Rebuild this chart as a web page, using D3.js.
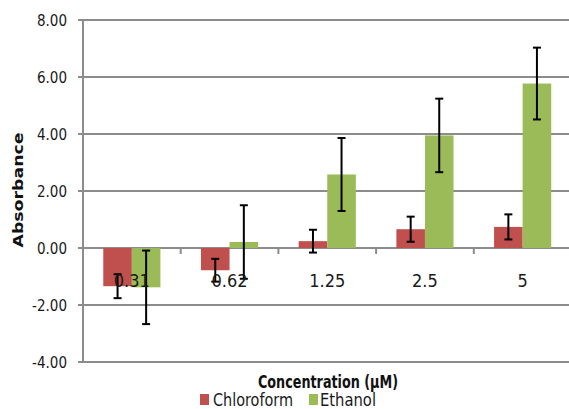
<!DOCTYPE html>
<html><head><meta charset="utf-8">
<script src="https://cdn.jsdelivr.net/npm/d3@7"></script>
<style>body{margin:0;background:#fff}svg{display:block}</style>
</head><body>
<script>
const categories = ["0.31","0.62","1.25","2.5","5"];
const chloroform = [-1.34,-0.78,0.24,0.66,0.74];
const chloroformErr = [0.42,0.40,0.40,0.44,0.44];
const ethanol = [-1.38,0.21,2.58,3.95,5.77];
const ethanolErr = [1.29,1.29,1.28,1.29,1.26];
const yTicks = [-4,-2,0,2,4,6,8];
const seriesNames = ["Chloroform","Ethanol"];
const colors = ["#C0504D","#9BBB59"];

const W=569,H=409;
const svg=d3.select("body").append("svg").attr("width",W).attr("height",H);
const font='"Liberation Sans Narrow","DejaVu Sans Condensed","DejaVu Sans",sans-serif';
const x0=83,x1=571.5;
const y=d3.scaleLinear().domain([-4,8]).range([362,20]);
const x=d3.scaleBand().domain(categories).range([x0,x1]).paddingInner(0).paddingOuter(0);
const inner=d3.scaleBand().domain([0,1]).range([0,x.bandwidth()]).paddingInner(0).paddingOuter(0.71);

// gridlines
svg.append("g").selectAll("line").data(yTicks).join("line")
  .attr("x1",x0-5).attr("x2",x1).attr("y1",d=>y(d)).attr("y2",d=>y(d))
  .attr("stroke","#8c8c8c").attr("stroke-width",2);
// y axis line
svg.append("line").attr("x1",x0).attr("x2",x0).attr("y1",y(8)).attr("y2",y(-4))
  .attr("stroke","#8c8c8c").attr("stroke-width",2);
// y tick labels
svg.append("g").selectAll("text").data(yTicks).join("text")
  .attr("x",67).attr("y",d=>y(d)+5.5).attr("text-anchor","end")
  .attr("font-family",font).attr("font-size",15).attr("fill","#1a1a1a")
  .text(d=>d.toFixed(2));

const data=[chloroform,ethanol], errs=[chloroformErr,ethanolErr];
data.forEach((vals,s)=>{
  svg.append("g").selectAll("rect").data(vals).join("rect")
    .attr("x",(d,i)=>x(categories[i])+inner(s))
    .attr("width",inner.bandwidth())
    .attr("y",d=>y(Math.max(0,d)))
    .attr("height",d=>Math.abs(y(d)-y(0)))
    .attr("fill",colors[s]);
});
// category ticks along zero line
svg.append("g").selectAll("line").data(categories.slice(1)).join("line")
  .attr("x1",d=>x(d)).attr("x2",d=>x(d)).attr("y1",y(0)).attr("y2",y(0)+6)
  .attr("stroke","#8c8c8c").attr("stroke-width",2);
// error bars
data.forEach((vals,s)=>{
  const g=svg.append("g").attr("stroke","#000").attr("stroke-width",2);
  vals.forEach((v,i)=>{
    const cx=x(categories[i])+inner(s)+inner.bandwidth()/2;
    const e=errs[s][i];
    g.append("line").attr("x1",cx).attr("x2",cx).attr("y1",y(v+e)).attr("y2",y(v-e));
    [v+e,v-e].forEach(t=>g.append("line").attr("x1",cx-4).attr("x2",cx+4).attr("y1",y(t)).attr("y2",y(t)));
  });
});
// category labels
svg.append("g").selectAll("text").data(categories).join("text")
  .attr("x",d=>x(d)+x.bandwidth()/2).attr("y",287).attr("text-anchor","middle")
  .attr("font-family",font).attr("font-size",18).attr("fill","#1a1a1a")
  .text(d=>d);

// y title
svg.append("text").attr("transform","translate(23,190) rotate(-90)")
  .attr("text-anchor","middle").attr("font-family",'"DejaVu Sans",sans-serif')
  .attr("font-weight","bold").attr("font-size",14).attr("fill","#111")
  .attr("textLength",115).attr("lengthAdjust","spacingAndGlyphs")
  .text("Absorbance");
// x title
svg.append("text").attr("x",258).attr("y",388)
  .attr("font-family",font).attr("font-weight","bold").attr("font-size",18).attr("fill","#111")
  .attr("textLength",140).attr("lengthAdjust","spacingAndGlyphs")
  .text("Concentration (µM)");
// legend
const lx=[200,309], tx=[213,320], tl=[80,56];
seriesNames.forEach((n,i)=>{
  svg.append("rect").attr("x",lx[i]).attr("y",394).attr("width",9).attr("height",11).attr("fill",colors[i]);
  svg.append("text").attr("x",tx[i]).attr("y",406).attr("font-family",font).attr("font-size",18).attr("fill","#1a1a1a")
    .attr("textLength",tl[i]).attr("lengthAdjust","spacingAndGlyphs").text(n);
});
</script>
</body></html>
